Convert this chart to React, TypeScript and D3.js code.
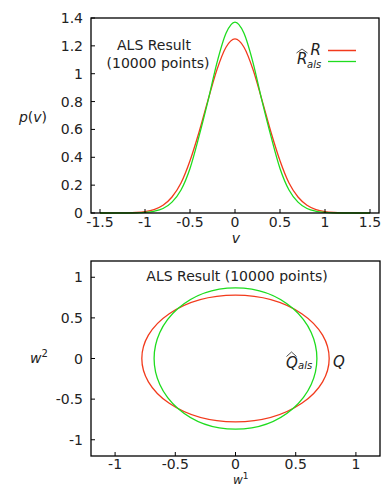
import React, { useEffect, useRef } from "react";
import * as d3 from "d3";

// density p(v) (v from -1.5 to 1.5, step 0.1)
const vGrid = [
  -1.5, -1.4, -1.3, -1.2, -1.1, -1.0, -0.9, -0.8, -0.7, -0.6, -0.5, -0.4, -0.3, -0.2, -0.1, 0,
  0.1, 0.2, 0.3, 0.4, 0.5, 0.6, 0.7, 0.8, 0.9, 1.0, 1.1, 1.2, 1.3, 1.4, 1.5,
];
const pR = [
  0, 0, 0.0003, 0.001, 0.0035, 0.01, 0.025, 0.056, 0.115, 0.215, 0.375, 0.58, 0.81, 1.03, 1.19, 1.25,
  1.19, 1.03, 0.81, 0.58, 0.375, 0.215, 0.115, 0.056, 0.025, 0.01, 0.0035, 0.001, 0.0003, 0, 0,
];
const pRals = [
  0, 0, 0, 0, 0.001, 0.004, 0.012, 0.032, 0.078, 0.165, 0.32, 0.55, 0.805, 1.08, 1.29, 1.37,
  1.29, 1.08, 0.805, 0.55, 0.32, 0.165, 0.078, 0.032, 0.012, 0.004, 0.001, 0, 0, 0, 0,
];

const topXTicks = [-1.5, -1, -0.5, 0, 0.5, 1, 1.5];
const topYTicks = [0, 0.2, 0.4, 0.6, 0.8, 1, 1.2, 1.4];

// ellipses Q and Q_als: [rx, ry] in w coordinates
const ellipseQ = [0.778, 0.78];
const ellipseQals = [0.676, 0.87];

const botTicks = [-1, -0.5, 0, 0.5, 1];

const RED = "#f23a1c";
const GREEN = "#1edc1e";
const FONT = "DejaVu Sans";

const App: React.FC = () => {
  const svgRef = useRef<SVGSVGElement | null>(null);

  useEffect(() => {
    document.body.style.margin = "0";
    if (!svgRef.current) return;
    const svg = d3.select(svgRef.current);
    svg.selectAll("*").remove();

    const fmt = (d: number) => String(d);

    const drawAxes = (
      g: d3.Selection<SVGGElement, unknown, null, undefined>,
      x: d3.ScaleLinear<number, number>,
      y: d3.ScaleLinear<number, number>,
      xt: number[],
      yt: number[],
      xlOffset: number
    ) => {
      const [x0, x1] = x.range();
      const [y0, y1] = y.range();
      g.selectAll(".xt")
        .data(xt)
        .enter()
        .append("line")
        .attr("x1", (d) => x(d))
        .attr("x2", (d) => x(d))
        .attr("y1", y0)
        .attr("y2", y0 - 4)
        .attr("stroke", "#000");
      g.selectAll(".yt")
        .data(yt)
        .enter()
        .append("line")
        .attr("x1", x0)
        .attr("x2", x0 + 4)
        .attr("y1", (d) => y(d))
        .attr("y2", (d) => y(d))
        .attr("stroke", "#000");
      g.selectAll(".xl")
        .data(xt)
        .enter()
        .append("text")
        .attr("x", (d) => x(d))
        .attr("y", y0 + xlOffset)
        .attr("text-anchor", "middle")
        .style("font-family", FONT)
        .style("font-size", "14px")
        .attr("fill", "#222")
        .text(fmt);
      g.selectAll(".yl")
        .data(yt)
        .enter()
        .append("text")
        .attr("x", x0 - 8)
        .attr("y", (d) => y(d) + 5)
        .attr("text-anchor", "end")
        .style("font-family", FONT)
        .style("font-size", "14px")
        .attr("fill", "#222")
        .text(fmt);
      g.append("rect")
        .attr("x", x0)
        .attr("y", y1)
        .attr("width", x1 - x0)
        .attr("height", y0 - y1)
        .attr("fill", "none")
        .attr("stroke", "#000")
        .attr("stroke-width", 1.3);
    };

    // ---------- top plot ----------
    const top = svg.append("g");
    const xTop = d3.scaleLinear().domain([-1.6, 1.6]).range([91, 379]);
    const yTop = d3.scaleLinear().domain([0, 1.4]).range([213, 18]);

    const line = d3
      .line<number>()
      .x((_, i) => xTop(vGrid[i]))
      .y((d) => yTop(d))
      .curve(d3.curveMonotoneX);

    top.append("path").attr("d", line(pR)!).attr("fill", "none").attr("stroke", RED).attr("stroke-width", 1.3);
    top.append("path").attr("d", line(pRals)!).attr("fill", "none").attr("stroke", GREEN).attr("stroke-width", 1.3);
    drawAxes(top, xTop, yTop, topXTicks, topYTicks, 14);

    const txt = (g: any, x: number, y: number, anchor = "start") =>
      g
        .append("text")
        .attr("x", x)
        .attr("y", y)
        .attr("text-anchor", anchor)
        .style("font-family", FONT)
        .style("font-size", "14px")
        .attr("fill", "#222");

    txt(top, 154, 50, "middle").text("ALS Result");
    txt(top, 158, 68, "middle").text("(10000 points)");

    // axis labels
    const pv = txt(top, 33, 122, "middle");
    pv.append("tspan").style("font-style", "italic").text("p");
    pv.append("tspan").text("(");
    pv.append("tspan").style("font-style", "italic").text("v");
    pv.append("tspan").text(")");
    txt(top, 236, 243, "middle").style("font-style", "italic").text("v");

    // legend
    txt(top, 321, 55, "end").style("font-style", "italic").style("font-size", "15px").text("R");
    top.append("line").attr("x1", 328).attr("x2", 356).attr("y1", 50.5).attr("y2", 50.5).attr("stroke", RED).attr("stroke-width", 1.5);
    txt(top, 297, 64).style("font-style", "italic").style("font-size", "15px").text("R");
    txt(top, 307, 68).style("font-style", "italic").style("font-size", "10px").text("als");
    top.append("path").attr("d", "M296.5,53 L302,49 L307.5,53").attr("fill", "none").attr("stroke", "#222").attr("stroke-width", 0.8);
    top.append("line").attr("x1", 328).attr("x2", 356).attr("y1", 61.5).attr("y2", 61.5).attr("stroke", GREEN).attr("stroke-width", 1.3);

    // ---------- bottom plot ----------
    const bot = svg.append("g");
    const xBot = d3.scaleLinear().domain([-1.2, 1.2]).range([91, 380]);
    const yBot = d3.scaleLinear().domain([-1.2, 1.2]).range([456, 261]);

    const drawEllipse = (r: number[], color: string) =>
      bot
        .append("ellipse")
        .attr("cx", xBot(0))
        .attr("cy", yBot(0))
        .attr("rx", xBot(r[0]) - xBot(0))
        .attr("ry", yBot(0) - yBot(r[1]))
        .attr("fill", "none")
        .attr("stroke", color)
        .attr("stroke-width", 1.3);
    drawEllipse(ellipseQ, RED);
    drawEllipse(ellipseQals, GREEN);
    drawAxes(bot, xBot, yBot, botTicks, botTicks, 13);

    txt(bot, 237, 281, "middle").text("ALS Result (10000 points)");

    txt(bot, 286, 368).style("font-style", "italic").style("font-size", "15px").text("Q");
    txt(bot, 298, 369).style("font-style", "italic").style("font-size", "10px").text("als");
    bot.append("path").attr("d", "M286.5,356.5 L291.5,352 L296.5,356.5").attr("fill", "none").attr("stroke", "#222").attr("stroke-width", 0.8);
    txt(bot, 333, 367).style("font-style", "italic").style("font-size", "15px").text("Q");

    const w2 = txt(bot, 30, 363);
    w2.append("tspan").style("font-style", "italic").text("w");
    w2.append("tspan").attr("dy", -6).style("font-size", "10px").text("2");
    const w1 = txt(bot, 233, 484).style("font-size", "12px");
    w1.append("tspan").style("font-style", "italic").text("w");
    w1.append("tspan").attr("dy", -5).style("font-size", "9px").text("1");
  }, []);

  return (
    <div>
      <svg ref={svgRef} width={383} height={487} style={{ display: "block", background: "#fff" }}></svg>
    </div>
  );
};

export default App;
